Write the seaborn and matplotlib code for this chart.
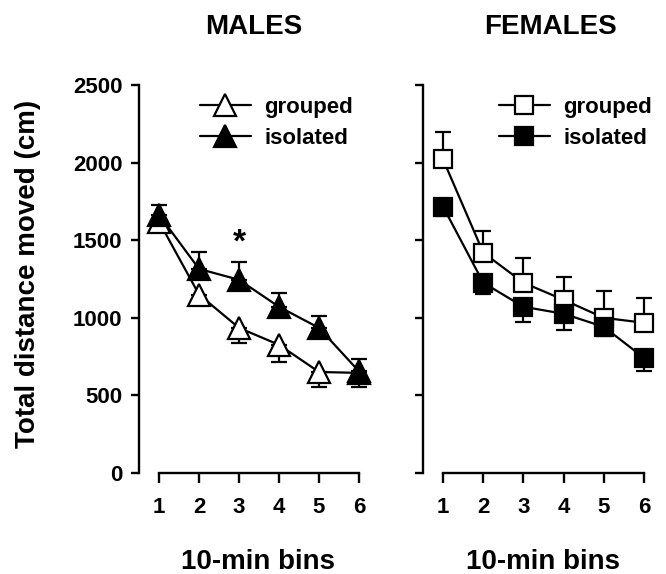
import matplotlib
matplotlib.use("Agg")
import matplotlib.pyplot as plt
import seaborn as sns

# values (mean and SEM, cm)
bins = [1, 2, 3, 4, 5, 6]

males_grouped = [1620, 1150, 935, 826, 651, 645]
males_grouped_sem = [45, 70, 95, 110, 100, 90]
males_isolated = [1664, 1315, 1245, 1071, 935, 655]
males_isolated_sem = [65, 110, 115, 90, 75, 80]

females_grouped = [2020, 1420, 1226, 1116, 1000, 968]
females_grouped_sem = [175, 140, 160, 150, 170, 160]
females_isolated = [1716, 1226, 1071, 1026, 942, 742]
females_isolated_sem = [60, 70, 100, 105, 60, 85]

y_ticks = [0, 500, 1000, 1500, 2000, 2500]

sns.set_style("ticks")
plt.rcParams['font.family'] = ['Liberation Sans', 'DejaVu Sans']
plt.rcParams['font.weight'] = 'bold'
for k in ['text.color', 'axes.labelcolor', 'xtick.color', 'ytick.color', 'axes.edgecolor']:
    plt.rcParams[k] = 'black'

W, H = 666, 574
fig = plt.figure(figsize=(W / 100, H / 100), dpi=100)
ax_m = fig.add_axes([139 / W, (H - 473) / H, 240 / W, 388 / H])
ax_f = fig.add_axes([423 / W, (H - 473) / H, 241 / W, 388 / H])


def draw_series(ax, vals, sem, marker, filled, down, label, ms):
    zero = [0] * len(sem)
    yerr = [sem, zero] if down else [zero, sem]
    ax.errorbar(bins, vals, yerr=yerr, fmt='none', ecolor='black',
                elinewidth=1.6, capsize=6, capthick=1.6, zorder=2)
    sns.lineplot(x=bins, y=vals, ax=ax, color='black', marker=marker,
                 markersize=ms, markerfacecolor='black' if filled else 'white',
                 markeredgecolor='black', markeredgewidth=1.6, linewidth=1.6,
                 label=label, zorder=4 if filled else 3)


draw_series(ax_m, males_grouped, males_grouped_sem, '^', False, True, 'grouped', 16)
draw_series(ax_m, males_isolated, males_isolated_sem, '^', True, False, 'isolated', 16)
draw_series(ax_f, females_grouped, females_grouped_sem, 's', False, False, 'grouped', 12.5)
draw_series(ax_f, females_isolated, females_isolated_sem, 's', True, True, 'isolated', 12.5)

ax_m.text(3, 1480, '*', ha='center', va='center', fontsize=24, fontweight='bold')

for ax, lx in [(ax_m, 0.253), (ax_f, 0.315)]:
    ax.set_xlim(0.5, 6.5)
    ax.set_ylim(0, 2500)
    ax.set_xticks(bins)
    ax.set_yticks(y_ticks)
    for s in ['top', 'right']:
        ax.spines[s].set_visible(False)
    ax.spines['left'].set_linewidth(1.7)
    ax.spines['bottom'].set_linewidth(1.7)
    ax.spines['bottom'].set_bounds(1, 6)
    ax.tick_params(axis='y', direction='out', length=6, width=1.7, pad=6, labelsize=16)
    ax.tick_params(axis='x', direction='out', length=7, width=1.7, pad=10, labelsize=16)
    ax.set_xlabel('')
    ax.set_ylabel('')
    h, l = ax.get_legend_handles_labels()
    ax.legend(h, l, loc='upper left', bbox_to_anchor=(lx, 0.97), frameon=False,
              handlelength=2.3, handletextpad=0.6, labelspacing=0.45,
              borderpad=0, borderaxespad=0, prop={'weight': 'bold', 'size': 16})

ax_f.set_yticklabels([])

fig.text(254 / W, 1 - 27 / H, 'MALES', ha='center', va='center', fontsize=20, fontweight='bold')
fig.text(550 / W, 1 - 27 / H, 'FEMALES', ha='center', va='center', fontsize=20, fontweight='bold')
fig.text(258 / W, 1 - 562 / H, '10-min bins', ha='center', va='center', fontsize=20, fontweight='bold')
fig.text(543 / W, 1 - 562 / H, '10-min bins', ha='center', va='center', fontsize=20, fontweight='bold')
fig.text(28 / W, 1 - 274 / H, 'Total distance moved (cm)', ha='center', va='center',
         rotation=90, fontsize=20, fontweight='bold')

fig.savefig('out.png', dpi=100)
